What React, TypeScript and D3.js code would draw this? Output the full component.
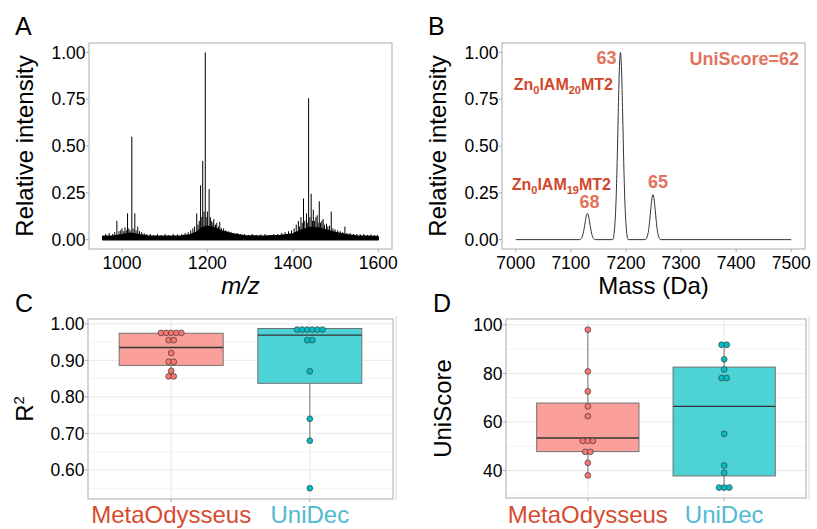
import React from 'react';
import * as d3 from 'd3';

const FONT = '"Liberation Sans", Arial, Helvetica, sans-serif';

// A: m/z spectrum, sticks (m/z, relative intensity)
const mzSticks: [number, number][] = [
  [962, 0.03], [970, 0.035], [978, 0.03], [983, 0.04], [988, 0.1], [993, 0.045], [997, 0.05],
  [1000, 0.06], [1004, 0.045], [1007, 0.065], [1010, 0.05], [1013, 0.14], [1016, 0.06],
  [1019, 0.05], [1023, 0.55], [1026, 0.06], [1030, 0.14], [1033, 0.05], [1037, 0.07],
  [1041, 0.045], [1046, 0.04], [1052, 0.035], [1058, 0.03], [1066, 0.03], [1074, 0.025],
  [1083, 0.03], [1092, 0.025], [1101, 0.03], [1110, 0.025], [1120, 0.03], [1130, 0.028],
  [1140, 0.03], [1148, 0.035], [1155, 0.04], [1161, 0.05], [1166, 0.06], [1170, 0.07],
  [1175, 0.14], [1178, 0.08], [1181, 0.1], [1184, 0.29], [1187, 0.12], [1189, 0.42],
  [1192, 0.15], [1195, 1.0], [1197, 0.12], [1200, 0.15], [1204, 0.27], [1207, 0.12],
  [1210, 0.1], [1213, 0.09], [1215, 0.11], [1219, 0.08], [1222, 0.09], [1226, 0.07],
  [1229, 0.095], [1233, 0.06], [1238, 0.06], [1243, 0.05], [1249, 0.045], [1255, 0.04],
  [1262, 0.035], [1270, 0.035], [1278, 0.03], [1287, 0.03], [1296, 0.025], [1305, 0.03],
  [1315, 0.025], [1325, 0.028], [1335, 0.03], [1345, 0.025], [1355, 0.03], [1365, 0.03],
  [1374, 0.035], [1382, 0.04], [1390, 0.045], [1397, 0.05], [1403, 0.06], [1408, 0.08],
  [1413, 0.1], [1416, 0.07], [1419, 0.12], [1422, 0.09], [1425, 0.22], [1428, 0.1],
  [1432, 0.14], [1434, 0.09], [1437, 0.755], [1440, 0.12], [1443, 0.245], [1446, 0.1],
  [1448, 0.16], [1451, 0.1], [1454, 0.12], [1457, 0.13], [1459, 0.09], [1462, 0.205],
  [1465, 0.09], [1468, 0.1], [1471, 0.11], [1474, 0.08], [1479, 0.085], [1482, 0.07],
  [1486, 0.075], [1490, 0.15], [1494, 0.06], [1499, 0.055], [1505, 0.05], [1511, 0.045],
  [1517, 0.04], [1522, 0.07], [1527, 0.035], [1534, 0.035], [1542, 0.03], [1550, 0.03],
  [1558, 0.028], [1566, 0.03], [1575, 0.025], [1583, 0.028], [1591, 0.025], [1598, 0.025],
];

// dense noise underneath the sticks
const mzNoiseFloor: [number, number][] = [
  [955, 0.018], [980, 0.02], [1000, 0.026], [1020, 0.034], [1040, 0.026], [1060, 0.02],
  [1100, 0.018], [1140, 0.02], [1160, 0.026], [1175, 0.04], [1190, 0.065], [1200, 0.072],
  [1215, 0.065], [1235, 0.045], [1260, 0.03], [1290, 0.02], [1330, 0.018], [1370, 0.022],
  [1400, 0.03], [1420, 0.05], [1440, 0.065], [1460, 0.062], [1480, 0.05], [1500, 0.038],
  [1525, 0.026], [1550, 0.02], [1575, 0.018], [1600, 0.016],
];
const mzTicks = [1000, 1200, 1400, 1600];

// B: deconvolved mass profile (Da, relative intensity)
const massProfile: [number, number][] = [
  [7000, 0], [7116, 0], [7120, 0.012], [7122, 0.029], [7124, 0.058], [7126, 0.094],
  [7128, 0.127], [7130, 0.14], [7132, 0.127], [7134, 0.094], [7136, 0.058], [7138, 0.029],
  [7140, 0.012], [7144, 0], [7176, 0], [7180, 0.085], [7182, 0.206], [7184, 0.411],
  [7186, 0.674], [7188, 0.906], [7190, 1.0], [7192, 0.906], [7194, 0.674], [7196, 0.411],
  [7198, 0.206], [7200, 0.085], [7204, 0], [7235, 0], [7239, 0.02], [7241, 0.049],
  [7243, 0.099], [7245, 0.162], [7247, 0.217], [7249, 0.24], [7251, 0.217], [7253, 0.162],
  [7255, 0.099], [7257, 0.049], [7259, 0.02], [7263, 0], [7500, 0],
];
const massTicks = [7000, 7100, 7200, 7300, 7400, 7500];
const intensityTicks = [0, 0.25, 0.5, 0.75, 1];

// peak scores: [mass, intensity, score]
const peakScores: [number, number, string][] = [
  [7130, 0.14, '68'],
  [7190, 1.0, '63'],
  [7249, 0.24, '65'],
];
const uniScoreLabel = 'UniScore=62';

// C, D: benchmark
const methods = ['MetaOdysseus', 'UniDec'];
const methodFill = ['#F8766D', '#00BFC4'];
const methodBox = ['#FA9F99', '#4DD2D6'];
const methodText = ['#D74B2F', '#4FBAD2'];

const r2MetaOdysseus = [0.975, 0.975, 0.975, 0.975, 0.975, 0.955, 0.955, 0.92, 0.896, 0.896, 0.871, 0.856, 0.856];
const r2UniDec = [0.984, 0.984, 0.984, 0.984, 0.984, 0.984, 0.955, 0.955, 0.87, 0.74, 0.68, 0.55];
// [lower whisker, q1, median, q3, upper whisker]
const r2BoxMetaOdysseus = [0.856, 0.886, 0.935, 0.974, 0.975];
const r2BoxUniDec = [0.68, 0.837, 0.969, 0.987, 0.987];
const r2Ticks = [0.6, 0.7, 0.8, 0.9, 1.0];
const r2Minor = [0.55, 0.65, 0.75, 0.85, 0.95];

const scoreMetaOdysseus = [98, 80.8, 72.6, 66.4, 62.4, 52.2, 52.2, 52.2, 47.7, 47.7, 43.2, 38];
const scoreUniDec = [91.8, 91.8, 85.8, 81.6, 78.1, 78.1, 55.1, 42.1, 39.1, 33, 33, 33];
const scoreBoxMetaOdysseus = [38, 47.8, 53.4, 67.8, 98];
const scoreBoxUniDec = [33, 37.8, 66.4, 82.6, 91.8];
const scoreTicks = [40, 60, 80, 100];
const scoreMinor = [30, 50, 70, 90];

type Lin = d3.ScaleLinear<number, number>;

const BORDER = '#ABABAB';

function stack(values: number[]) {
  const counts = d3.rollup(values, v => v.length, d => d);
  const seen = new Map<number, number>();
  return values.map(v => {
    const n = counts.get(v)!;
    const i = seen.get(v) ?? 0;
    seen.set(v, i + 1);
    return { v, off: i - (n - 1) / 2 };
  });
}

function YAxis({ y, ticks, x0, fmt }: { y: Lin; ticks: number[]; x0: number; fmt: (d: number) => string }) {
  return (
    <g>
      {ticks.map(t => (
        <g key={t}>
          <line x1={x0 - 3} x2={x0} y1={y(t)} y2={y(t)} stroke={BORDER} />
          <text x={x0 - 3.5} y={y(t)} dy="0.36em" textAnchor="end" fontSize={17.5}>
            {fmt(t)}
          </text>
        </g>
      ))}
    </g>
  );
}

function SpectrumFrame({ x, y, xTicks, label, title, yTitle, children }: any) {
  const [x0, x1] = x.range();
  const [y1, y0] = y.range();
  const f2 = d3.format('.2f');
  return (
    <g>
      <text x={x0 - 74} y={35} fontSize={25}>{label}</text>
      {children}
      <rect x={x0} y={y0} width={x1 - x0} height={y1 - y0} fill="none" stroke={BORDER} />
      <YAxis y={y} ticks={intensityTicks} x0={x0} fmt={f2} />
      {xTicks.map((t: number) => (
        <g key={t}>
          <line x1={x(t)} x2={x(t)} y1={y1} y2={y1 + 3} stroke={BORDER} />
          <text x={x(t)} y={y1 + 20} textAnchor="middle" fontSize={17.5}>{t}</text>
        </g>
      ))}
      <text x={(x0 + x1) / 2} y={294} textAnchor="middle" fontSize={24} fontStyle={title === 'm/z' ? 'italic' : 'normal'}>
        {title}
      </text>
      <text transform={`translate(${x0 - 56},${(y0 + y1) / 2}) rotate(-90)`} textAnchor="middle" fontSize={24}>
        {yTitle}
      </text>
    </g>
  );
}

function BoxPanel({ x, y, label, ticks, minor, fmt, boxes, dots, yTitle }: any) {
  const [x0, x1] = x.range();
  const [y1, y0] = y.range();
  const bw = x.step() * 0.75;
  const sp = 5.1;
  return (
    <g>
      <text x={x0 - 73} y={312} fontSize={25}>{label}</text>
      {minor.map((t: number) => (
        <line key={'m' + t} x1={x0} x2={x1} y1={y(t)} y2={y(t)} stroke="#F4F4F4" />
      ))}
      {ticks.map((t: number) => (
        <line key={'g' + t} x1={x0} x2={x1} y1={y(t)} y2={y(t)} stroke="#E8E8E8" />
      ))}
      {methods.map(m => (
        <line key={'v' + m} x1={x(m)} x2={x(m)} y1={y0} y2={y1} stroke="#E8E8E8" />
      ))}
      {methods.map((m, i) => {
        const [lo, q1, med, q3, hi] = boxes[i];
        const cx = x(m);
        return (
          <g key={m}>
            <line x1={cx} x2={cx} y1={y(hi)} y2={y(q3)} stroke="#8A8A8A" strokeWidth={1.2} />
            <line x1={cx} x2={cx} y1={y(q1)} y2={y(lo)} stroke="#8A8A8A" strokeWidth={1.2} />
            <rect x={cx - bw / 2} y={y(q3)} width={bw} height={y(q1) - y(q3)} fill={methodBox[i]} stroke="#727272" strokeWidth={1} />
            <line x1={cx - bw / 2} x2={cx + bw / 2} y1={y(med)} y2={y(med)} stroke="#333" strokeWidth={1.3} />
            {stack(dots[i]).map((d, j) => (
              <circle key={j} cx={cx + d.off * sp} cy={y(d.v)} r={2.9} fill={methodFill[i]} stroke="#3c3c3c" strokeWidth={0.7} />
            ))}
          </g>
        );
      })}
      <rect x={x0} y={y0} width={x1 - x0} height={y1 - y0} fill="none" stroke={BORDER} />
      <line x1={x1 + 3} x2={x1 + 3} y1={y0 - 3} y2={y1 + 2} stroke="#D8D8D8" />
      <YAxis y={y} ticks={ticks} x0={x0} fmt={fmt} />
      {methods.map((m, i) => (
        <g key={'t' + m}>
          <line x1={x(m)} x2={x(m)} y1={y1} y2={y1 + 3} stroke={BORDER} />
          <text x={x(m)} y={523} textAnchor="middle" fontSize={24} fill={methodText[i]}>{m}</text>
        </g>
      ))}
      <text transform={`translate(${x0 - 55},${(y0 + y1) / 2}) rotate(-90)`} textAnchor="middle" fontSize={24}>
        {yTitle}
      </text>
    </g>
  );
}

export default function App() {
  const xA = d3.scaleLinear().domain([922.75, 1632.25]).range([89, 392]);
  const yA = d3.scaleLinear().domain([-0.05, 1.05]).range([249, 43]);
  const xB = d3.scaleLinear().domain([6975, 7525]).range([502, 805]);
  const yB = d3.scaleLinear().domain([-0.05, 1.05]).range([249, 43]);

  const xC = d3.scalePoint().domain(methods).range([88, 393]).padding(0.6);
  const yC = d3.scaleLinear().domain([0.5205, 1.013]).range([499, 319]);
  const xD = d3.scalePoint().domain(methods).range([506, 806]).padding(0.6);
  const yD = d3.scaleLinear().domain([28.7, 102.4]).range([498, 319]);

  const noise = d3.area<[number, number]>()
    .x(d => xA(d[0]))
    .y0(yA(0))
    .y1(d => yA(d[1]))(mzNoiseFloor);
  const profile = d3.line<[number, number]>()
    .x(d => xB(d[0]))
    .y(d => yB(d[1]))
    .curve(d3.curveMonotoneX)(massProfile);

  const numColor = '#E2735D';
  const znColor = '#D2472C';
  const [p68, p63, p65] = peakScores;

  return (
    <svg width={817} height={529} style={{ position: 'absolute', left: 0, top: 0, background: '#fff' }} fontFamily={FONT}>
      <SpectrumFrame x={xA} y={yA} xTicks={mzTicks} label="A" title="m/z" yTitle="Relative intensity">
        <path d={noise!} fill="#000" stroke="#000" strokeWidth={1.5} strokeLinejoin="bevel" />
        {mzSticks.map(([mz, v]) => (
          <line key={mz} x1={xA(mz)} x2={xA(mz)} y1={yA(0)} y2={yA(v)} stroke="#000" strokeWidth={1} />
        ))}
      </SpectrumFrame>

      <SpectrumFrame x={xB} y={yB} xTicks={massTicks} label="B" title="Mass (Da)" yTitle="Relative intensity">
        <path d={profile!} fill="none" stroke="#333" strokeWidth={1} />
        <g fontWeight="bold" fontSize={18} fill={numColor}>
          <text x={xB(p63[0]) - 4} y={yB(p63[1]) + 12} textAnchor="end">{p63[2]}</text>
          <text x={xB(p68[0]) + 2} y={yB(p68[1]) - 5} textAnchor="middle">{p68[2]}</text>
          <text x={xB(p65[0]) + 5} y={yB(p65[1]) - 7} textAnchor="middle">{p65[2]}</text>
          <text x={799} y={65} textAnchor="end">{uniScoreLabel}</text>
        </g>
        <g fontWeight="bold" fontSize={16} fill={znColor}>
          <text x={613} y={90} textAnchor="end">
            Zn<tspan fontSize={11} dy={4}>0</tspan>
            <tspan dy={-4}>IAM</tspan>
            <tspan fontSize={11} dy={4}>20</tspan>
            <tspan dy={-4}>MT2</tspan>
          </text>
          <text x={611} y={190} textAnchor="end">
            Zn<tspan fontSize={11} dy={4}>0</tspan>
            <tspan dy={-4}>IAM</tspan>
            <tspan fontSize={11} dy={4}>19</tspan>
            <tspan dy={-4}>MT2</tspan>
          </text>
        </g>
      </SpectrumFrame>

      <BoxPanel
        x={xC}
        y={yC}
        label="C"
        ticks={r2Ticks}
        minor={r2Minor}
        fmt={d3.format('.2f')}
        boxes={[r2BoxMetaOdysseus, r2BoxUniDec]}
        dots={[r2MetaOdysseus, r2UniDec]}
        yTitle={<>R<tspan fontSize={15} dy={-9}>2</tspan></>}
      />
      <BoxPanel
        x={xD}
        y={yD}
        label="D"
        ticks={scoreTicks}
        minor={scoreMinor}
        fmt={(d: number) => String(d)}
        boxes={[scoreBoxMetaOdysseus, scoreBoxUniDec]}
        dots={[scoreMetaOdysseus, scoreUniDec]}
        yTitle="UniScore"
      />
    </svg>
  );
}
